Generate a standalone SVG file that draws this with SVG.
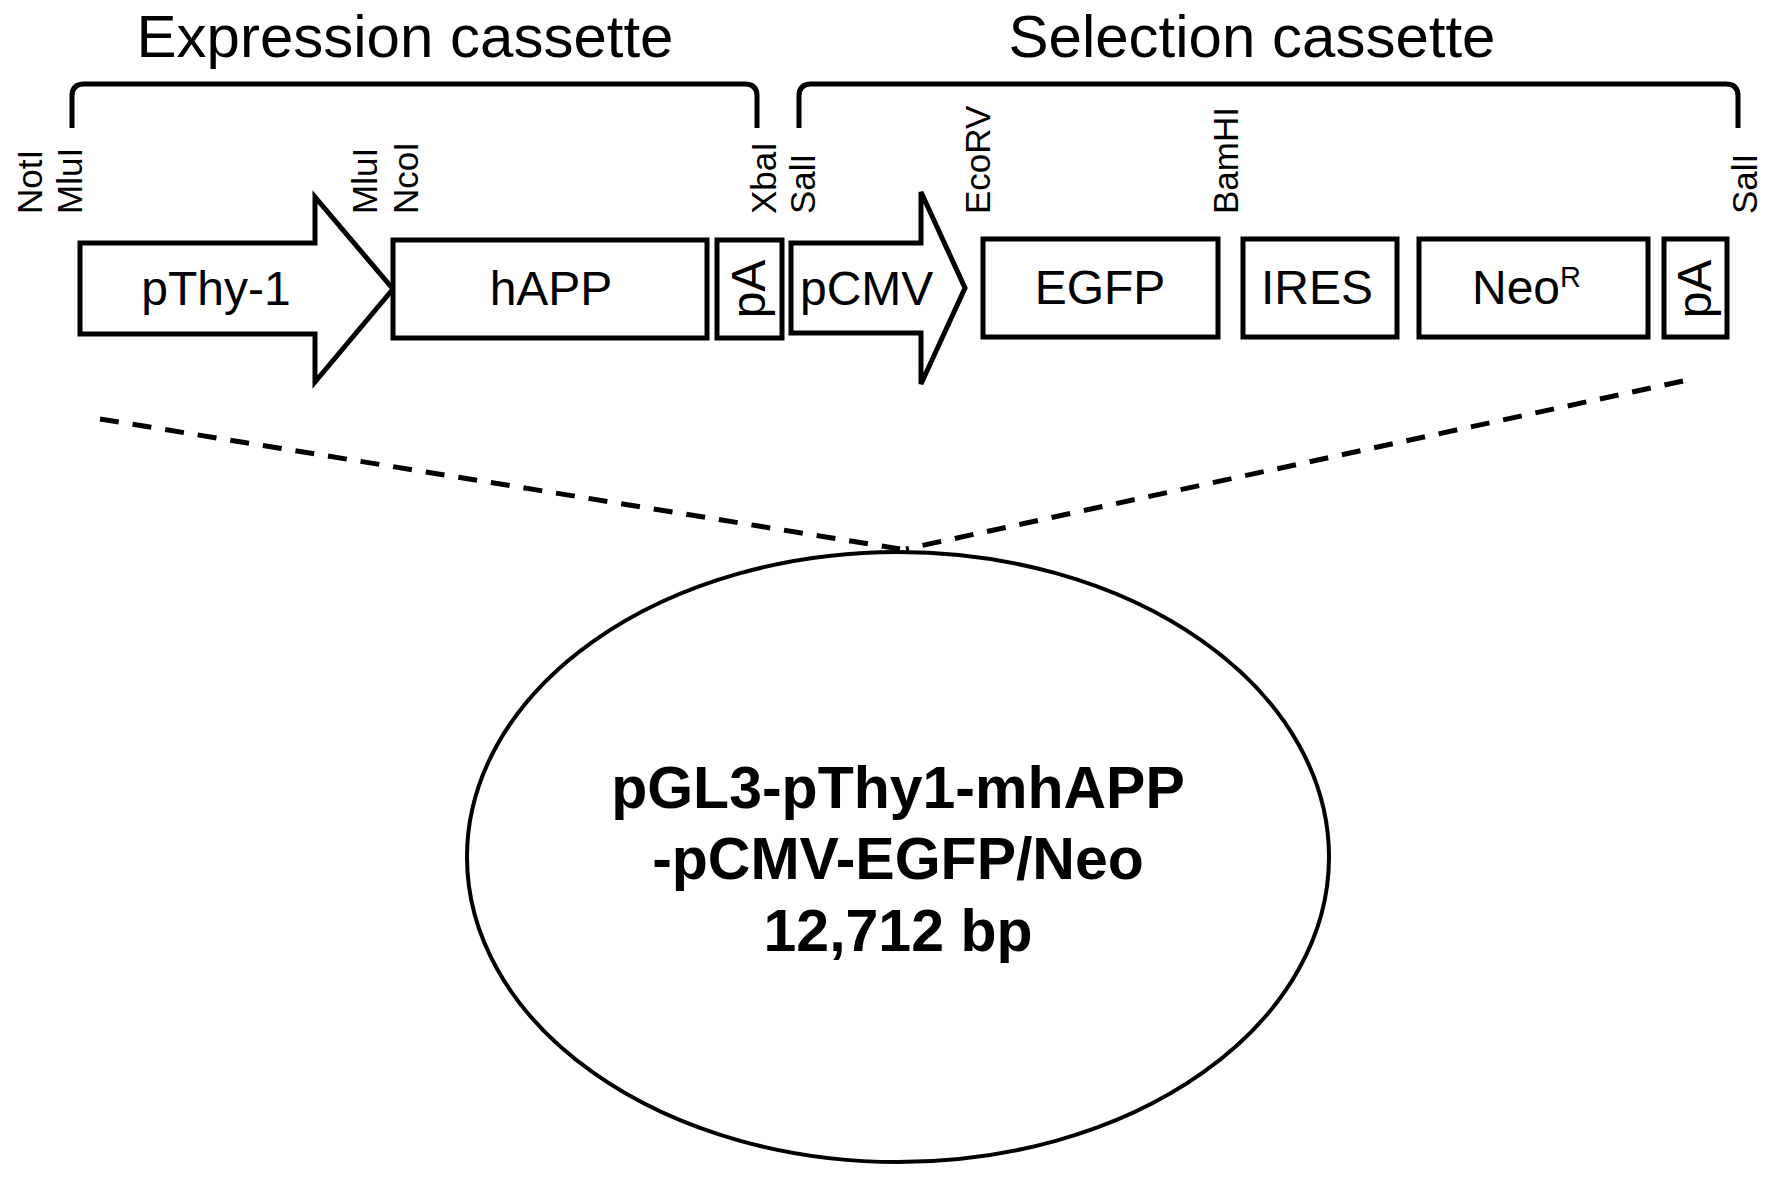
<svg xmlns="http://www.w3.org/2000/svg" width="1772" height="1180" viewBox="0 0 1772 1180">
<style>
  .shape { fill: #fff; stroke: #000; stroke-width: 5; stroke-linejoin: miter; }
  .brace { fill: none; stroke: #000; stroke-width: 5; stroke-linecap: butt; }
  .dash { fill: none; stroke: #000; stroke-width: 5; stroke-dasharray: 19 14; }
  .title { font-family: "Liberation Sans", Arial, sans-serif; font-size: 60px; fill: #000; text-anchor: middle; }
  .lbl { font-family: "Liberation Sans", Arial, sans-serif; font-size: 48px; fill: #000; text-anchor: middle; }
  .site { font-family: "Liberation Sans", Arial, sans-serif; font-size: 35px; fill: #000; text-anchor: start; }
  .big { font-family: "Liberation Sans", Arial, sans-serif; font-size: 59px; font-weight: bold; fill: #000; text-anchor: middle; }
</style>
<rect x="0" y="0" width="1772" height="1180" fill="#fff"/>

<g id="titles">
  <text class="title" x="405" y="57">Expression cassette</text>
  <text class="title" x="1252" y="57">Selection cassette</text>
</g>

<g id="brackets">
  <path class="brace" d="M72,128 L72,96 Q72,84 84,84 L745,84 Q757,84 757,96 L757,128"/>
  <path class="brace" d="M799,128 L799,96 Q799,84 811,84 L1726,84 Q1738,84 1738,96 L1738,128"/>
</g>

<g id="sites">
  <text class="site" transform="translate(42,214) rotate(-90)">NotI</text>
  <text class="site" transform="translate(82,214) rotate(-90)">MluI</text>
  <text class="site" transform="translate(377,214) rotate(-90)">MluI</text>
  <text class="site" transform="translate(418,214) rotate(-90)">NcoI</text>
  <text class="site" transform="translate(776,214) rotate(-90)">XbaI</text>
  <text class="site" transform="translate(815,214) rotate(-90)">SalI</text>
  <text class="site" transform="translate(990,214) rotate(-90)">EcoRV</text>
  <text class="site" transform="translate(1238,214) rotate(-90)">BamHI</text>
  <text class="site" transform="translate(1757,214) rotate(-90)">SalI</text>
</g>

<g id="pThy1">
  <polygon class="shape" points="80,243 315,243 315,197 393,289 315,382 315,334 80,334"/>
  <text class="lbl" x="216" y="305">pThy-1</text>
</g>

<g id="hAPP">
  <rect class="shape" x="393" y="240" width="314" height="98"/>
  <text class="lbl" x="551" y="305">hAPP</text>
</g>

<g id="pA1">
  <rect class="shape" x="717" y="240" width="65" height="98"/>
  <text class="lbl" transform="translate(765,289) rotate(-90)">pA</text>
</g>

<g id="pCMV">
  <polygon class="shape" points="791,243 921,243 921,192 965,288 921,384 921,333 791,333"/>
  <text class="lbl" x="800" y="305" style="text-anchor:start">pCMV</text>
</g>

<g id="EGFP">
  <rect class="shape" x="983" y="239" width="235" height="98"/>
  <text class="lbl" x="1100" y="304">EGFP</text>
</g>

<g id="IRES">
  <rect class="shape" x="1243" y="239" width="154" height="98"/>
  <text class="lbl" x="1317" y="304">IRES</text>
</g>

<g id="NeoR">
  <rect class="shape" x="1419" y="239" width="229" height="98"/>
  <text class="lbl" x="1472" y="304" style="text-anchor:start">Neo<tspan font-size="29" dy="-17">R</tspan></text>
</g>

<g id="pA2">
  <rect class="shape" x="1664" y="239" width="63" height="98"/>
  <text class="lbl" transform="translate(1711,289) rotate(-90)">pA</text>
</g>

<g id="connectors">
  <line class="dash" x1="100" y1="419" x2="900" y2="549"/>
  <line class="dash" x1="1683" y1="381" x2="906" y2="549"/>
</g>

<g id="plasmid">
  <ellipse cx="898" cy="857" rx="431" ry="305" fill="#fff" stroke="#000" stroke-width="4"/>
  <text class="big" x="898" y="808">pGL3-pThy1-mhAPP</text>
  <text class="big" x="898" y="879">-pCMV-EGFP/Neo</text>
  <text class="big" x="898" y="951">12,712 bp</text>
</g>
</svg>
